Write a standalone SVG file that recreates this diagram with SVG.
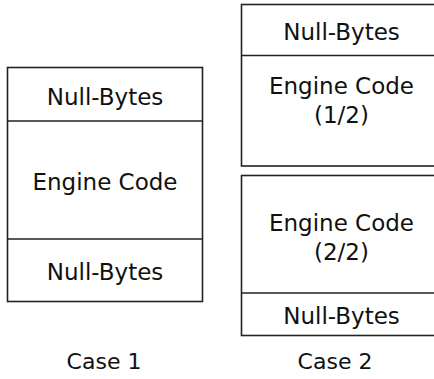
<svg xmlns="http://www.w3.org/2000/svg" width="434" height="379" viewBox="0 0 434 379">
<style>
.box{fill:#fff;stroke:#222;stroke-width:1.6}
.div{stroke:#222;stroke-width:1.6}
text{font-family:"DejaVu Sans","Noto Sans",sans-serif;font-size:23px;fill:#111;text-anchor:middle}
.cap{font-size:22px}
</style>
<rect width="434" height="379" fill="#fff"/>
<g id="case1">
<rect class="box" x="7.5" y="67.5" width="195" height="234"/>
<line class="div" x1="7.5" y1="121" x2="202.5" y2="121"/>
<line class="div" x1="7.5" y1="239" x2="202.5" y2="239"/>
<text x="105" y="105">Null-Bytes</text>
<text x="105" y="190">Engine Code</text>
<text x="105" y="280">Null-Bytes</text>
<text class="cap" x="104" y="369">Case 1</text>
</g>
<g id="case2-part1">
<rect class="box" x="241.5" y="4.5" width="200" height="161.5"/>
<line class="div" x1="241.5" y1="55.5" x2="441.5" y2="55.5"/>
<text x="341.5" y="40">Null-Bytes</text>
<text x="341.5" y="94">Engine Code</text>
<text x="341.5" y="123">(1/2)</text>
</g>
<g id="case2-part2">
<rect class="box" x="241.5" y="175.5" width="200" height="160"/>
<line class="div" x1="241.5" y1="293" x2="441.5" y2="293"/>
<text x="341.5" y="231">Engine Code</text>
<text x="341.5" y="260">(2/2)</text>
<text x="341.5" y="324">Null-Bytes</text>
<text class="cap" x="335" y="369">Case 2</text>
</g>
<g id="connectors"/>
</svg>
